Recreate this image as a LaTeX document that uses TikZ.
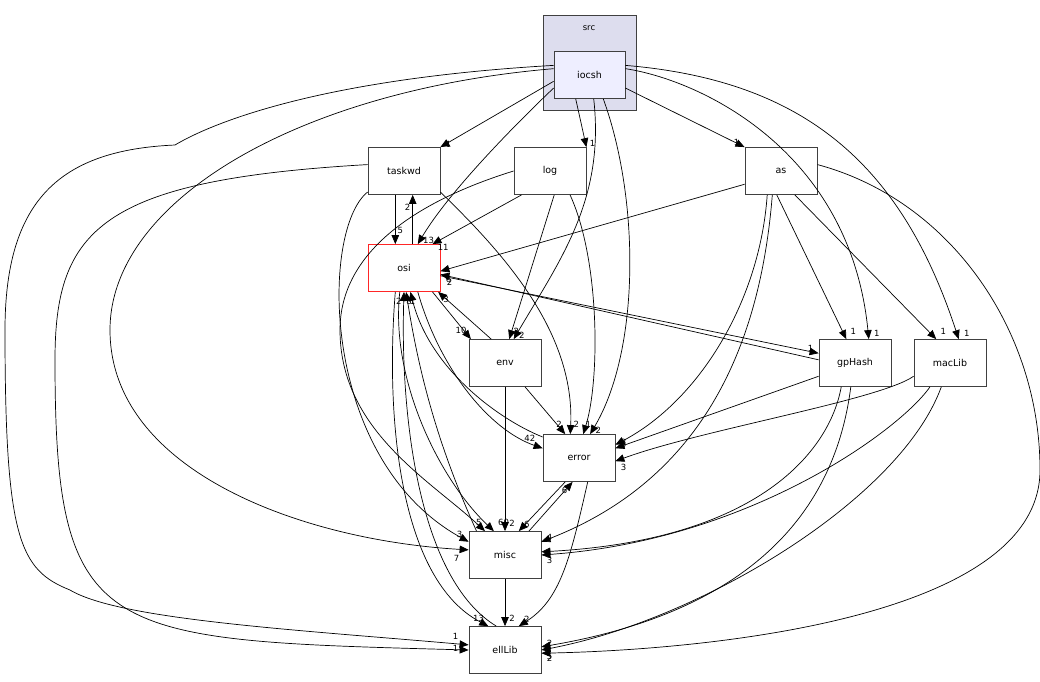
\documentclass[tikz,border=0pt]{standalone}
\usepackage{fontspec}
\setmainfont{DejaVu Sans}
\usetikzlibrary{arrows.meta}
\begin{document}
\begin{tikzpicture}[x=1pt,y=-1pt,
  box/.style={draw=black!75,fill=white,minimum width=72pt,minimum height=47pt,inner sep=0pt,font=\fontsize{9.5}{10}\selectfont,line width=0.8pt},
  e/.style={-{Triangle[length=9pt,width=7.5pt]},line width=0.7pt},
  l/.style={font=\fontsize{8.5}{9}\selectfont,inner sep=1pt},
  dy/.style={yshift={-1*(#1)}}]
\useasboundingbox (0,0) rectangle (1040,681);
\fill[white] (0,0) rectangle (1040,681);
\node[draw=black!75,fill={rgb,255:red,221;green,221;blue,238},minimum width=93pt,minimum height=95pt,line width=0.8pt] (src) at (589.5,62.5) {};
\node[font=\fontsize{8.5}{9}\selectfont] (srcl) at (589,28) {src};
\node[box,fill={rgb,255:red,238;green,238;blue,255},minimum width=71pt] (iocsh) at (589.5,75) {iocsh};
\node[box] (taskwd) at (404,171) {taskwd};
\node[box] (log) at (550,171) {log};
\node[box] (as) at (781,171) {as};
\node[box,draw=red!85] (osi) at (404,268) {osi};
\node[box] (env) at (505,363) {env};
\node[box] (gpHash) at (855,363) {gpHash};
\node[box] (macLib) at (950,363) {macLib};
\node[box] (error) at (579,458) {error};
\node[box] (misc) at (505,555) {misc};
\node[box] (ellLib) at (505,650) {ellLib};
% iocsh
\draw[e] (iocsh.190) -- (taskwd.north east) node[l,pos=1,right=4pt,dy=-3pt]{1};
\draw[e] (iocsh.200) .. controls (520,120) and (450,190) .. (osi.60) node[l,pos=1,right=4pt,dy=-4pt]{13};
\draw[e] (iocsh.240) -- (log.north east) node[l,pos=1,right=2pt,dy=-4pt]{1};
\draw[e] (iocsh.280) .. controls (605,200) and (560,260) .. (env.70) node[l,pos=1,right=4pt,dy=-4pt]{2};
\draw[e] (iocsh.300) .. controls (640,200) and (640,350) .. (error.65) node[l,pos=1,right=4pt,dy=-4pt]{2};
\draw[e] (iocsh.340) -- (as.north west) node[l,pos=1,left=4pt,dy=-5pt]{1};
\draw[e] (iocsh.10) .. controls (700,80) and (850,150) .. (gpHash.60) node[l,pos=1,right=4pt,dy=-6pt]{1};
\draw[e] (iocsh.15) .. controls (800,80) and (900,160) .. (macLib.70) node[l,pos=1,right=4pt,dy=-6pt]{1};
\draw[e] (iocsh.170) .. controls (300,90) and (110,200) .. (110,330) .. controls (110,470) and (300,540) .. (misc.172) node[l,pos=1,left=8pt,dy=9pt]{7};
\draw[e] (iocsh.165) .. controls (300,80) and (200,130) .. (175,145) .. controls (60,150) and (5,200) .. (5,330) .. controls (5,540) and (20,570) .. (70,590) .. controls (120,620) and (300,630) .. (ellLib.172) node[l,pos=1,left=9pt,dy=-8pt]{1};
% taskwd
\draw[e] (taskwd.250) -- (osi.110) node[l,pos=1,right=1pt,dy=-14pt]{5};
\draw[e] (osi.70) -- (taskwd.290) node[l,pos=1,left=1pt,dy=12pt]{2};
\draw[e] (taskwd.330) .. controls (500,250) and (575,330) .. (error.110) node[l,pos=1,right=2pt,dy=-10pt]{2};
\draw[e] (taskwd.210) .. controls (320,230) and (320,460) .. (misc.160) node[l,pos=1,left=5pt,dy=-7pt]{3};
\draw[e] (taskwd.170) .. controls (100,180) and (55,230) .. (55,360) .. controls (55,640) and (100,640) .. (ellLib.180) node[l,pos=1,left=9pt,dy=-2pt]{1};
% log
\draw[e] (log.220) -- (osi.40) node[l,pos=1,right=4pt,dy=3pt]{11};
\draw[e] (log.280) -- (env.80) node[l,pos=1,right=3pt,dy=-8pt]{2};
\draw[e] (log.310) .. controls (600,260) and (600,380) .. (error.80) node[l,pos=1,right=1pt,dy=-10pt]{1};
\draw[e] (log.180) .. controls (420,200) and (340,250) .. (340,330) .. controls (340,430) and (430,480) .. (misc.130) node[l,pos=1,left=2pt,dy=-9pt]{5};
% as
\draw[e] (as.200) -- (osi.-5) node[l,pos=1,right=4pt,dy=8pt]{6};
\draw[e] (as.260) -- (gpHash.110) node[l,pos=1,right=3pt,dy=-8pt]{1};
\draw[e] (as.300) -- (macLib.120) node[l,pos=1,right=3pt,dy=-8pt]{1};
\draw[e] (as.240) .. controls (760,300) and (700,400) .. (error.20) node[l,pos=1,right=4pt,dy=-2pt]{3};
\draw[e] (as.250) .. controls (760,350) and (700,480) .. (misc.20) node[l,pos=1,right=4pt,dy=-4pt]{4};
\draw[e] (as.10) .. controls (950,200) and (1040,330) .. (1040,470) .. controls (1040,620) and (700,650) .. (ellLib.-5) node[l,pos=1,right=4pt,dy=5pt]{2};
% osi
\draw[e] (osi.-40) -- (env.145) node[l,pos=1,left=3pt,dy=-9pt]{10};
\draw[e] (env.120) -- (osi.-35) node[l,pos=1,right=4pt,dy=7pt]{3};
\draw[e] (gpHash.175) -- (osi.-10) node[l,pos=1,right=5pt,dy=8pt]{2};
\draw[e] (osi.-12) -- (gpHash.165) node[l,pos=1,left=4pt,dy=-5pt]{1};
\draw[e] (osi.-60) .. controls (440,370) and (490,430) .. (error.165) node[l,pos=1,left=6pt,dy=-10pt]{42};
\draw[e] (error.150) .. controls (500,420) and (430,370) .. (osi.-75) node[l,pos=1,right=-2pt,dy=9pt]{1};
\draw[e] (osi.-100) .. controls (390,380) and (440,480) .. (misc.115) node[l,pos=1,right=3pt,dy=-9pt]{60};
\draw[e] (misc.140) .. controls (440,450) and (420,380) .. (osi.-85) node[l,pos=1,right=-1pt,dy=9pt]{8};
\draw[e] (osi.-110) .. controls (385,420) and (400,580) .. (ellLib.125) node[l,pos=1,left=3pt,dy=-8pt]{13};
\draw[e] (ellLib.110) .. controls (420,580) and (400,420) .. (osi.-90) node[l,pos=1,left=1pt,dy=9pt]{2};
% env
\draw[e] (env.-50) -- (error.120) node[l,pos=1,left=2pt,dy=-10pt]{2};
\draw[e] (env.south) -- (misc.north) node[l,pos=1,right=3pt,dy=-8pt]{2};
% gpHash, macLib
\draw[e] (gpHash.200) -- (error.15) node[l,pos=1,right=4pt,dy=-4pt]{3};
\draw[e] (gpHash.240) .. controls (830,450) and (760,540) .. (misc.5) node[l,pos=1,right=4pt,dy=9pt]{3};
\draw[e] (gpHash.260) .. controls (830,550) and (700,620) .. (ellLib.5) node[l,pos=1,right=4pt,dy=-3pt]{2};
\draw[e] (macLib.200) .. controls (880,400) and (700,430) .. (error.-5) node[l,pos=1,right=4pt,dy=6pt]{3};
\draw[e] (macLib.230) .. controls (900,430) and (750,540) .. (misc.0);
\draw[e] (macLib.250) .. controls (900,500) and (700,620) .. (ellLib.0) node[l,pos=1,right=4pt,dy=6pt]{5};
% error / misc
\draw[e] (error.240) -- (misc.60) node[l,pos=1,right=4pt,dy=-7pt]{6};
\draw[e] (misc.45) -- (error.255) node[l,pos=1,left=4pt,dy=8pt]{6};
\draw[e] (error.290) .. controls (570,560) and (560,600) .. (ellLib.60) node[l,pos=1,right=4pt,dy=-7pt]{2};
\draw[e] (misc.south) -- (ellLib.north) node[l,pos=1,right=3pt,dy=-8pt]{2};
\end{tikzpicture}
\end{document}
